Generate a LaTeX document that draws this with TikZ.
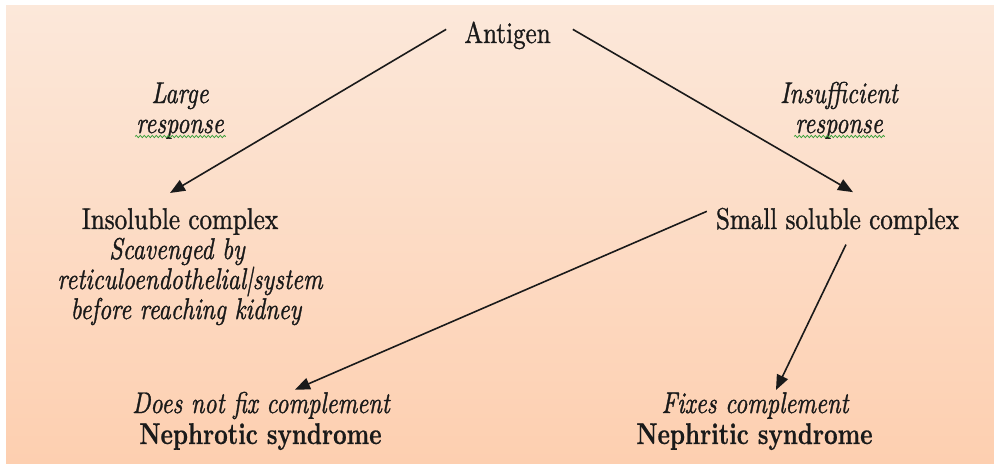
\documentclass[tikz,border=0pt]{standalone}
\usepackage{fontspec}
\usepackage{graphicx}
\setmainfont{lmroman10}[Extension=.otf,
  UprightFont=*-regular, ItalicFont=*-italic,
  BoldFont=*-bold, BoldItalicFont=*-bolditalic,
  UprightFeatures={FakeBold=1.2}, ItalicFeatures={FakeBold=1.2},
  BoldFeatures={FakeBold=0.6}]
\usetikzlibrary{arrows.meta,decorations.pathmorphing}
\definecolor{ink}{HTML}{1A1A1A}
\definecolor{bgtop}{HTML}{FCE8DA}
\definecolor{bgbot}{HTML}{FDCFB0}
\definecolor{squiggle}{HTML}{3CA03C}
\newcommand{\nar}[1]{\scalebox{0.835}[1]{#1}}
\newcommand{\nari}[1]{\scalebox{0.80}[1]{#1}}
\newcommand{\narb}[1]{\scalebox{0.785}[1]{#1}}
\begin{document}
\begin{tikzpicture}[x=1pt,y=-1pt,
  lbl/.style={inner sep=0pt,anchor=base,text=ink,font=\fontsize{30}{30}\selectfont},
  ital/.style={lbl,font=\fontsize{30}{30}\selectfont\itshape},
  bld/.style={lbl,font=\fontsize{30}{30}\selectfont\bfseries},
  arr/.style={draw=ink,line width=1.6pt,-{Triangle[length=15pt,width=12pt]}},
  squig/.style={draw=squiggle,line width=0.8pt,decorate,decoration={snake,amplitude=1.1pt,segment length=4pt}}]
\useasboundingbox (0,0) rectangle (994,464);
\fill[white] (0,0) rectangle (994,464);
\shade[top color=bgtop,bottom color=bgbot] (6,5) rectangle (994,463);

\node[lbl] (antigen) at (507.5,43) {\nar{Antigen}};

\node[ital] (large) at (180,103) {\nari{Large}};
\node[ital] (resp1) at (180,133) {\nari{response}};
\node[ital] (insuf) at (839,103) {\nari{Insufficient}};
\node[ital] (resp2) at (839,133) {\nari{response}};
\draw[squig] ([shift={(-1,3.5)}]resp1.base west) -- ([shift={(2,3.5)}]resp1.base east);
\draw[squig] ([shift={(-1,3.5)}]resp2.base west) -- ([shift={(2,3.5)}]resp2.base east);

\node[lbl] (insol) at (180,229) {\nar{Insoluble complex}};
\node[ital] (desc1) at (177,259) {\nari{Scavenged by}};
\node[ital] (desc2) at (190,289) {\nari{reticuloendothelial|system}};
\node[ital] (desc3) at (186,319) {\nari{before reaching kidney}};

\node[lbl] (small) at (837.5,229) {\nar{Small soluble complex}};

\node[ital] (dnf) at (261,413) {\nari{Does not fix complement}};
\node[bld] (nephrotic) at (260.5,444) {\narb{Nephrotic syndrome}};
\node[ital] (fixes) at (755,413) {\nari{Fixes complement}};
\node[bld] (nephritic) at (754.5,444) {\narb{Nephritic syndrome}};

\draw[arr] ([shift={(-18,-6)}]antigen.west) -- ([shift={(-10,-15)}]insol.north);
\draw[arr] ([shift={(22,-6)}]antigen.east) -- ([shift={(15.5,-15.5)}]small.north);
\draw[arr] ([shift={(-9,-10)}]small.west) -- ([shift={(34,-2)}]dnf.north);
\draw[arr] ([shift={(8.5,9.5)}]small.south) -- ([shift={(21,-2)}]fixes.north);
\end{tikzpicture}
\end{document}
